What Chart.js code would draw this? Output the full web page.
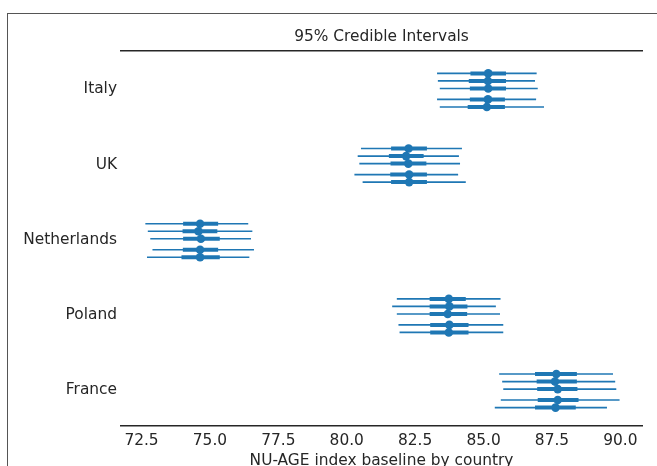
<!DOCTYPE html>
<html lang="en">
<head>
  <meta charset="UTF-8">
  <title>95% Credible Intervals</title>
  <script src="https://cdn.jsdelivr.net/npm/chart.js"></script>
  <style>
    body {
      margin: 0;
      background: #ffffff;
      font-family: 'DejaVu Sans', sans-serif;
    }
    .wrap {
      position: relative;
      width: 657px;
      height: 466px;
      overflow: hidden;
    }
    .frame {
      position: absolute;
      left: 7px;
      top: 13px;
      width: 700px;
      height: 500px;
      border-top: 1px solid #555;
      border-left: 1px solid #555;
    }
    canvas { position: absolute; left: 0; top: 0; }
  </style>
</head>
<body>
  <div class="wrap">
    <div class="frame"></div>
    <canvas id="forest" width="657" height="466"></canvas>
  </div>

  <script>
    // countries from bottom (0) to top (4)
    const countries = ['France', 'Poland', 'Netherlands', 'UK', 'Italy'];
    const xTicks = [72.5, 75.0, 77.5, 80.0, 82.5, 85.0, 87.5, 90.0];
    // vertical offset of each chain row around the country label
    const chainOffsets = [0.213, 0.113, 0.013, -0.133, -0.233];

    // per country, 5 chains each: 95% interval low/high, quartiles, median
    const hdiLow = [
      [85.57, 85.68, 85.72, 85.63, 85.41],
      [81.83, 81.66, 81.83, 81.89, 81.93],
      [72.64, 72.73, 72.82, 72.90, 72.70],
      [80.52, 80.40, 80.46, 80.28, 80.58],
      [83.30, 83.33, 83.40, 83.30, 83.40]
    ];
    const hdiHigh = [
      [89.73, 89.81, 89.85, 89.97, 89.51],
      [85.62, 85.45, 85.60, 85.72, 85.72],
      [76.40, 76.55, 76.50, 76.61, 76.44],
      [84.21, 84.10, 84.14, 84.07, 84.35],
      [86.94, 86.88, 86.98, 86.92, 87.21]
    ];
    const q25 = [
      [86.88, 86.94, 86.96, 86.98, 86.88],
      [83.03, 83.03, 83.03, 83.05, 83.05],
      [74.02, 74.00, 74.02, 74.01, 73.96],
      [81.62, 81.54, 81.60, 81.59, 81.62],
      [84.52, 84.46, 84.50, 84.50, 84.42]
    ];
    const q75 = [
      [88.41, 88.41, 88.43, 88.47, 88.37],
      [84.35, 84.41, 84.40, 84.45, 84.45],
      [75.30, 75.27, 75.36, 75.30, 75.36],
      [82.93, 82.81, 82.91, 82.93, 82.93],
      [85.82, 85.82, 85.82, 85.78, 85.78]
    ];
    const medians = [
      [87.66, 87.61, 87.71, 87.71, 87.63],
      [83.73, 83.75, 83.69, 83.75, 83.73],
      [74.64, 74.58, 74.67, 74.64, 74.64],
      [82.26, 82.17, 82.25, 82.28, 82.28],
      [85.17, 85.16, 85.17, 85.16, 85.12]
    ];

    const blue = '#1f77b4';
    const textColor = '#262626';
    const fontSize = 15.4;
    const datasets = [];

    countries.forEach((c, i) => {
      const pts = [];
      chainOffsets.forEach((off, j) => {
        const y = i + off;
        datasets.push({
          type: 'line',
          data: [{x: hdiLow[i][j], y: y}, {x: hdiHigh[i][j], y: y}],
          borderColor: blue, borderWidth: 1.6, pointRadius: 0, showLine: true
        });
        datasets.push({
          type: 'line',
          data: [{x: q25[i][j], y: y}, {x: q75[i][j], y: y}],
          borderColor: blue, borderWidth: 4, pointRadius: 0, showLine: true
        });
        pts.push({x: medians[i][j], y: y});
      });
      datasets.push({
        type: 'scatter',
        data: pts,
        backgroundColor: blue, borderColor: blue, pointRadius: 4.3, borderWidth: 0
      });
    });

    new Chart(document.getElementById('forest'), {
      type: 'scatter',
      data: { datasets: datasets },
      options: {
        responsive: false,
        animation: false,
        layout: { padding: { left: 0, right: 15, top: 21, bottom: 0 } },
        plugins: {
          legend: { display: false },
          tooltip: { enabled: false },
          title: {
            display: true,
            text: '95% Credible Intervals',
            fullSize: false,
            color: textColor,
            font: { family: 'DejaVu Sans', size: fontSize, weight: 'normal' },
            padding: { top: 7, bottom: 4 }
          }
        },
        scales: {
          x: {
            type: 'linear',
            position: 'bottom',
            min: 71.75,
            max: 90.79,
            afterBuildTicks: s => { s.ticks = xTicks.map(v => ({value: v})); },
            afterFit: s => { s.height = 40; },
            grid: { display: false, drawTicks: false },
            border: { display: true, color: textColor, width: 1.5 },
            ticks: {
              color: textColor,
              padding: 6,
              maxRotation: 0,
              font: { family: 'DejaVu Sans', size: fontSize },
              callback: v => Number(v).toFixed(1)
            },
            title: {
              display: true,
              text: 'NU-AGE index baseline by country',
              color: textColor,
              font: { family: 'DejaVu Sans', size: fontSize },
              padding: { top: 0, bottom: -4 }
            }
          },
          x2: {
            type: 'linear',
            position: 'top',
            min: 71.75,
            max: 90.79,
            afterFit: s => { s.height = 0; },
            grid: { display: false, drawTicks: false },
            border: { display: true, color: textColor, width: 1.5 },
            ticks: { display: false }
          },
          y: {
            type: 'linear',
            min: -0.478,
            max: 4.518,
            afterBuildTicks: s => { s.ticks = countries.map((c, i) => ({value: i})); },
            afterFit: s => { s.width = 121; },
            grid: { display: false, drawTicks: false },
            border: { display: false },
            ticks: {
              color: textColor,
              padding: 4,
              font: { family: 'DejaVu Sans', size: fontSize },
              callback: v => countries[v]
            }
          }
        }
      }
    });
  </script>
</body>
</html>
